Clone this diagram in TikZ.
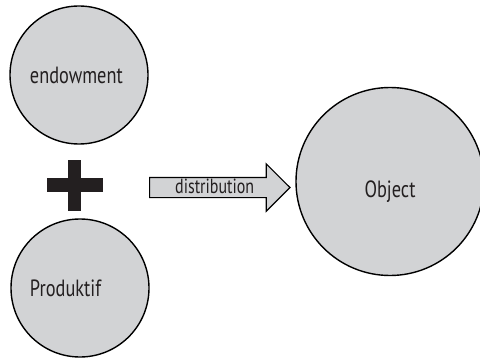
\documentclass[tikz,border=0pt]{standalone}
\usepackage{fontspec}
\setmainfont{PT Sans}[FakeStretch=0.78]
\usepackage{tikz}
\usetikzlibrary{shapes.arrows, positioning}
\definecolor{bubblegray}{RGB}{210,211,213}
\definecolor{inkblack}{RGB}{35,31,32}

\begin{document}
\begin{tikzpicture}[x=1pt, y=1pt,
        bubble/.style={circle, draw=black, fill=bubblegray, line width=1.4pt, inner sep=0pt, font=\fontsize{23.5}{26}\selectfont, text=inkblack},
        flowarrow/.style={single arrow, draw=black, fill=bubblegray, line width=1.2pt, single arrow head extend=13.5pt, single arrow tip angle=90, text width=125pt, align=center, inner xsep=2pt, inner ysep=1pt, text height=14pt, text depth=3pt, font=\fontsize{20.5}{23}\selectfont, text=inkblack}
    ]
        \useasboundingbox (0,0) rectangle (480,357);

        % Zwei Eingangskreise links, Text linksbuendig
        \node [bubble, minimum size=138pt, text width=98pt, align=left] (endow) at (79,282) {endowment};
        \node [bubble, minimum size=138pt, text width=100pt, align=left] (produk) at (80,69) {Produktif};

        % Pluszeichen zwischen den Kreisen
        \fill [inkblack] (46.5,165) rectangle (102.5,179);
        \fill [inkblack] (68,146.5) rectangle (81,197.5);

        % Zielkreis rechts
        \node [bubble, minimum size=188pt, label={[yshift=-10pt, font=\fontsize{23.5}{26}\selectfont, text=inkblack]center:Object}] (obj) at (390,175.5) {};

        % Pfeil mit Beschriftung
        \node [flowarrow, anchor=west] (dist) at (149,169.5) {distribution};
    \end{tikzpicture}
\end{document}
